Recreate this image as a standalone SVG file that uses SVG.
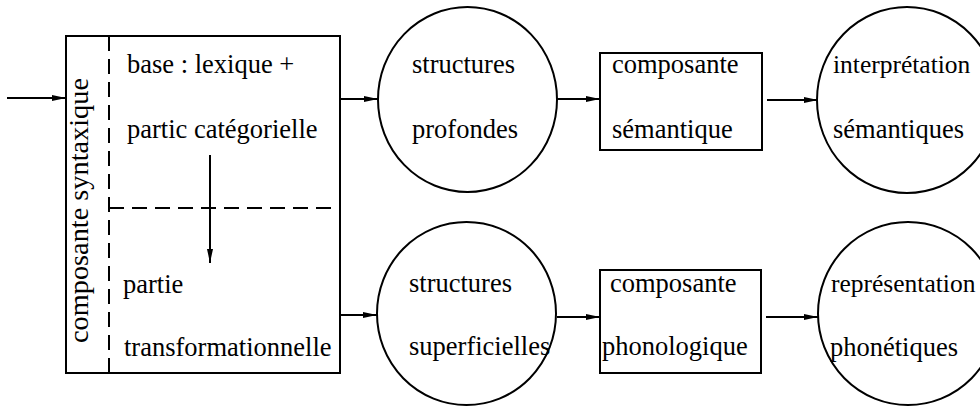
<svg xmlns="http://www.w3.org/2000/svg" width="980" height="407" viewBox="0 0 980 407">
  <defs>
    <marker id="arrow" viewBox="0 0 14 8" refX="14" refY="4" markerWidth="14" markerHeight="8" markerUnits="userSpaceOnUse" orient="auto">
      <path d="M0,1 L14,4 L0,7 Z" fill="#000"/>
    </marker>
    <style>
      text { font-family: "Liberation Serif", "Times New Roman", serif; font-size: 26.5px; fill: #000; }
      .shape { fill: none; stroke: #000; stroke-width: 2; }
      .dash { fill: none; stroke: #000; stroke-width: 2; stroke-dasharray: 15 8; }
      .link { fill: none; stroke: #000; stroke-width: 2; marker-end: url(#arrow); }
      .edge { font-size: 25.5px; }
    </style>
  </defs>
  <rect width="980" height="407" fill="#fff"/>

  <!-- syntactic component: outer frame with base and transformational parts -->
  <g id="syntaxique">
    <rect class="shape" x="66" y="36" width="274" height="337"/>
    <line class="dash" x1="109" y1="36" x2="109" y2="373"/>
    <line class="dash" x1="109" y1="208" x2="340" y2="208"/>
    <text transform="translate(88,343) rotate(-90)" textLength="265" lengthAdjust="spacingAndGlyphs">composante syntaxique</text>
    <text x="127" y="73">base : lexique +</text>
    <text x="127" y="138">partic catégorielle</text>
    <text x="123" y="293">partie</text>
    <text x="124" y="356">transformationnelle</text>
  </g>

  <g id="structures-profondes">
    <ellipse class="shape" cx="467.5" cy="99.5" rx="89.5" ry="92.5"/>
    <text x="412" y="73">structures</text>
    <text x="412" y="138">profondes</text>
  </g>

  <g id="structures-superficielles">
    <ellipse class="shape" cx="466.5" cy="313.5" rx="89.5" ry="91.5"/>
    <text x="409" y="292">structures</text>
    <text x="409" y="355">superficielles</text>
  </g>

  <g id="composante-semantique">
    <rect class="shape" x="600" y="53" width="162" height="97"/>
    <text x="612" y="73">composante</text>
    <text x="612" y="138">sémantique</text>
  </g>

  <g id="composante-phonologique">
    <rect class="shape" x="600" y="270" width="161" height="103"/>
    <text x="610" y="292">composante</text>
    <text x="602" y="355">phonologique</text>
  </g>

  <g id="interpretation-semantiques">
    <ellipse class="shape" cx="907" cy="100" rx="90" ry="93"/>
    <text class="edge" x="833" y="73">interprétation</text>
    <text x="833" y="138">sémantiques</text>
  </g>

  <g id="representation-phonetiques">
    <ellipse class="shape" cx="908" cy="313.5" rx="90" ry="91.5"/>
    <text class="edge" x="831" y="292">représentation</text>
    <text x="830" y="356">phonétiques</text>
  </g>

  <!-- connectors -->
  <g id="connectors">
    <line class="link" x1="7" y1="98" x2="66" y2="98"/>
    <line class="link" x1="210" y1="155" x2="210" y2="263"/>
    <line class="link" x1="340" y1="99" x2="378" y2="99"/>
    <line class="link" x1="340" y1="315" x2="377" y2="315"/>
    <line class="link" x1="557" y1="99" x2="600" y2="99"/>
    <line class="link" x1="557" y1="317" x2="600" y2="317"/>
    <line class="link" x1="767" y1="100" x2="818" y2="100"/>
    <line class="link" x1="766" y1="317" x2="818" y2="317"/>
  </g>
</svg>
